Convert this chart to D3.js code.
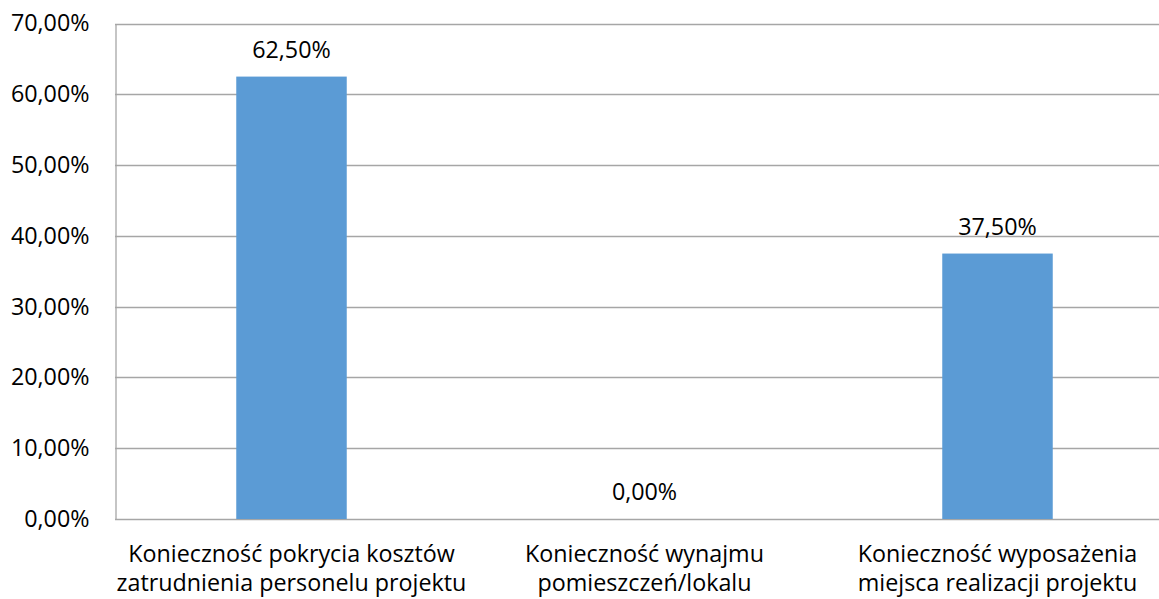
<!DOCTYPE html>
<html><head><meta charset="utf-8">
<script src="https://cdn.jsdelivr.net/npm/d3@7"></script>
<style>body{margin:0;background:#fff}svg{display:block}</style>
</head><body>
<svg id="c" width="1159" height="599"></svg>
<script>
const categories = [
  ["Konieczność pokrycia kosztów", "zatrudnienia personelu projektu"],
  ["Konieczność wynajmu", "pomieszczeń/lokalu"],
  ["Konieczność wyposażenia", "miejsca realizacji projektu"]
];
const values = [0.625, 0.0, 0.375];
const yTicks = [0, 0.1, 0.2, 0.3, 0.4, 0.5, 0.6, 0.7];

const FONT = "Open Sans";
const FS = 23.3;
const svg = d3.select("#c");
const fmt = v => d3.format(".2f")(v * 100).replace(".", ",") + "%";

const x = d3.scaleBand().domain(d3.range(categories.length)).range([115, 1174])
  .paddingInner(0.687).paddingOuter(0.3435);
const y = d3.scaleLinear().domain([0, 0.7]).range([519, 23.5]);

// gridlines
svg.append("g").selectAll("line").data(yTicks).join("line")
  .attr("x1", 115).attr("x2", 1174)
  .attr("y1", d => Math.round(y(d)) + 0.5).attr("y2", d => Math.round(y(d)) + 0.5)
  .attr("stroke", "#a6a6a6").attr("stroke-width", 1.3);

// bars
svg.append("g").selectAll("rect").data(values).join("rect")
  .attr("x", (d, i) => x(i)).attr("width", x.bandwidth())
  .attr("y", d => y(d)).attr("height", d => y(0) - y(d))
  .attr("fill", "#5b9bd5");

// y axis
const yAxis = d3.axisLeft(y).tickValues(yTicks).tickFormat(fmt).tickSize(0).tickPadding(26);
const ga = svg.append("g").attr("transform", "translate(115.5,0)").call(yAxis);
ga.select(".domain").attr("stroke", "#a6a6a6").attr("stroke-width", 1.3);
ga.selectAll("text").attr("font-family", FONT).attr("font-size", FS).attr("fill", "#000");

// value labels
svg.append("g").selectAll("text").data(values).join("text")
  .attr("x", (d, i) => x(i) + x.bandwidth() / 2).attr("y", d => y(d) - 19)
  .attr("text-anchor", "middle").attr("font-family", FONT).attr("font-size", FS)
  .attr("fill", "#000").text(fmt);

// category labels
const cl = svg.append("g").selectAll("text").data(categories).join("text")
  .attr("text-anchor", "middle").attr("font-family", FONT).attr("font-size", FS).attr("fill", "#000");
cl.selectAll("tspan").data((d, i) => d.map(s => ({s, i}))).join("tspan")
  .attr("x", d => x(d.i) + x.bandwidth() / 2)
  .attr("y", (d, j) => 562 + j * 29)
  .text(d => d.s);
</script>
</body></html>
